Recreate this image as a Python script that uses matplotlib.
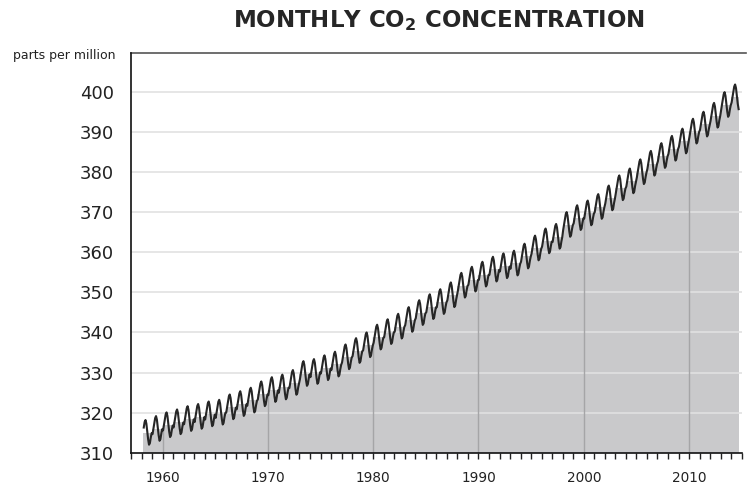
import numpy as np
import matplotlib.pyplot as plt

plt.rcParams['font.family'] = ['DejaVu Sans']
plt.rcParams['mathtext.fontset'] = 'dejavusans'

# Annual mean CO2 (ppm) at Mauna Loa, 1958..2014
years = np.arange(1958, 2015)
annual_mean = [
    315.0, 315.98, 316.91, 317.64, 318.45, 318.99, 319.62, 320.04, 321.37, 322.18,
    323.05, 324.62, 325.68, 326.32, 327.46, 329.68, 330.19, 331.12, 332.03, 333.84,
    335.41, 336.84, 338.76, 340.12, 341.48, 343.15, 344.87, 346.35, 347.61, 349.31,
    351.69, 353.20, 354.45, 355.70, 356.54, 357.21, 358.96, 360.97, 362.74, 363.88,
    366.84, 368.54, 369.71, 371.32, 373.45, 375.98, 377.70, 379.98, 382.09, 384.02,
    385.83, 387.64, 390.10, 391.85, 394.06, 396.74, 398.65,
]
# monthly departure from the calendar-year mean (Jan..Dec)
seasonal = [-1.33, 0.04, 1.30, 2.68, 3.17, 2.28, 0.35, -1.63, -2.98, -2.60, -1.19, -0.10]
first_month = 2   # record starts March 1958
last_month = 8    # and ends September 2014

y_ticks = list(range(310, 401, 10))
decades = [1960, 1970, 1980, 1990, 2000, 2010]

annual = np.array(annual_mean)
t = (years[:, None] + (np.arange(12) + 0.5) / 12).ravel()
monthly = (annual[:, None] + np.array(seasonal)[None, :]).ravel()
cut_end = len(t) - (11 - last_month)
t = t[first_month:cut_end]
monthly = monthly[first_month:cut_end]

fig = plt.figure(figsize=(7.47, 4.87), dpi=100)
ax = fig.add_axes([0.1754, 0.0702, 0.8175, 0.8204])

# stepped annual-mean area
edges = np.concatenate([[years[0] + first_month / 12], years[1:], [years[-1] + (last_month + 1) / 12]])
ax.stairs(annual, edges, baseline=310, fill=True, color='#c9c9cb', zorder=1, lw=0)

# horizontal grid over everything but the line
ax.hlines(y_ticks[1:], 1957, 2015, color='#e1e1e1', lw=1.2, zorder=2)
# decade markers inside the area
ax.vlines(decades, 310, [annual[d - years[0]] for d in decades], color='#a5a5a7', lw=1.0, zorder=2)

ax.plot(t, monthly, color='#262626', lw=1.5, zorder=3)

ax.set_xlim(1957, 2015)
ax.set_ylim(310, 409.6)

ax.set_xticks(decades)
ax.set_xticks(range(1957, 2016), minor=True)
ax.tick_params(axis='x', which='both', direction='out', length=4, width=1, color='#222222',
               pad=9, labelsize=9.8, labelcolor='#222222')
ax.set_yticks(y_ticks)
ax.tick_params(axis='y', length=0, pad=12.5, labelsize=13, labelcolor='#222222')

for s in ['top', 'right']:
    ax.spines[s].set_visible(False)
ax.spines['left'].set_color('#111111')
ax.spines['bottom'].set_color('#111111')
ax.spines['left'].set_linewidth(1.2)
ax.spines['bottom'].set_linewidth(1.2)
ax.plot([0, 1.007], [1, 1], transform=ax.transAxes, color='#555555', lw=1.2, clip_on=False)

fig.text(0.154, 0.887, 'parts per million', ha='right', va='center', fontsize=9, color='#222222')
fig.text(0.588, 0.958, r'MONTHLY CO$_{\mathbf{2}}$ CONCENTRATION', ha='center', va='center',
         fontsize=16.5, fontweight='bold', color='#262626')

fig.savefig('out.png', dpi=100)
